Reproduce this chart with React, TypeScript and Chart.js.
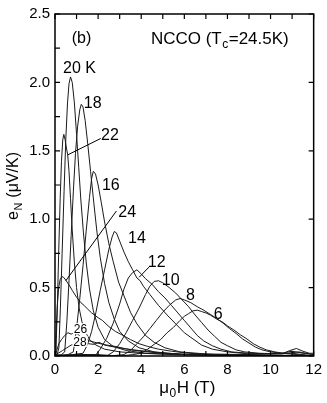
import React, { useEffect, useRef } from "react";
import { Chart, registerables } from "chart.js";

Chart.register(...registerables);

const FAM = '"Liberation Sans", Arial, Helvetica, sans-serif';

// Axis ranges and ticks
const X_MIN = 0;
const X_MAX = 12;
const Y_MIN = 0;
const Y_MAX = 2.5;
const X_TICK_STEP = 1;
const Y_TICK_STEP = 0.25;

// Nernst signal curves: [mu0H (T), eN (uV/K)]
const T6: [number, number][] = [[0,0.01],[1,0.0],[2,0.01],[3,0.0],[3.6,0.01],[4.0,0.02],[4.3,0.05],[4.6,0.085],[4.9,0.12],[5.2,0.17],[5.5,0.21],[5.8,0.26],[6.0,0.29],[6.2,0.31],[6.4,0.33],[6.6,0.335],[6.8,0.325],[7.0,0.315],[7.2,0.3],[7.5,0.27],[7.8,0.245],[8.0,0.22],[8.3,0.19],[8.6,0.155],[8.9,0.125],[9.2,0.09],[9.5,0.065],[9.8,0.045],[10.2,0.03],[10.6,0.02],[10.9,0.04],[11.2,0.055],[11.5,0.035],[11.8,0.02],[12,0.02]];
const T8: [number, number][] = [[0,0],[1.5,0.01],[2.5,0.0],[3.2,0.01],[3.5,0.04],[3.8,0.09],[4.1,0.14],[4.4,0.2],[4.7,0.26],[5.0,0.32],[5.3,0.37],[5.6,0.41],[5.8,0.42],[6.0,0.41],[6.3,0.39],[6.6,0.36],[6.9,0.335],[7.2,0.305],[7.5,0.275],[7.8,0.24],[8.1,0.2],[8.4,0.165],[8.7,0.125],[9.0,0.095],[9.3,0.065],[9.6,0.045],[10.0,0.03],[10.5,0.02],[11.0,0.035],[11.5,0.02],[12,0.01]];
const T10: [number, number][] = [[0,0],[1.5,0.01],[2.4,0.0],[2.7,0.03],[3.0,0.09],[3.3,0.17],[3.6,0.26],[3.9,0.35],[4.2,0.45],[4.4,0.51],[4.6,0.545],[4.8,0.55],[5.0,0.535],[5.3,0.5],[5.6,0.46],[5.9,0.41],[6.2,0.36],[6.5,0.3],[6.8,0.245],[7.1,0.19],[7.4,0.145],[7.7,0.1],[8.0,0.075],[8.4,0.045],[8.8,0.03],[9.5,0.02],[10.5,0.015],[11.3,0.03],[12,0.01]];
const T12: [number, number][] = [[0,0],[1.0,0.01],[1.9,0.01],[2.1,0.05],[2.4,0.13],[2.7,0.24],[3.0,0.38],[3.2,0.49],[3.4,0.57],[3.6,0.61],[3.8,0.63],[4.0,0.6],[4.2,0.565],[4.5,0.525],[4.8,0.47],[5.1,0.425],[5.4,0.37],[5.7,0.315],[6.0,0.26],[6.3,0.205],[6.6,0.15],[6.9,0.11],[7.3,0.075],[7.7,0.05],[8.2,0.03],[9.0,0.02],[10.0,0.015],[11.0,0.02],[12,0]];
const T14: [number, number][] = [[0,0],[0.8,0.01],[1.3,0.02],[1.5,0.08],[1.7,0.18],[1.9,0.32],[2.1,0.48],[2.3,0.63],[2.5,0.78],[2.65,0.87],[2.75,0.91],[2.85,0.9],[3.0,0.84],[3.2,0.76],[3.4,0.69],[3.6,0.63],[3.8,0.57],[3.95,0.55],[4.1,0.51],[4.4,0.45],[4.8,0.37],[5.2,0.3],[5.6,0.235],[6.0,0.17],[6.4,0.125],[6.8,0.08],[7.3,0.05],[8.0,0.03],[9.0,0.015],[10.5,0.02],[12,0]];
const T16: [number, number][] = [[0,0],[0.6,0.01],[0.85,0.03],[1.0,0.2],[1.15,0.42],[1.3,0.66],[1.45,0.92],[1.6,1.16],[1.7,1.3],[1.78,1.35],[1.88,1.33],[2.0,1.25],[2.15,1.12],[2.3,0.98],[2.5,0.82],[2.7,0.69],[2.95,0.54],[3.2,0.44],[3.5,0.32],[3.8,0.235],[4.2,0.15],[4.6,0.1],[5.1,0.06],[5.8,0.03],[7.0,0.015],[9.0,0.01],[12,0]];
const T18: [number, number][] = [[0,0],[0.3,0.01],[0.45,0.03],[0.55,0.25],[0.65,0.55],[0.75,0.88],[0.85,1.2],[0.95,1.48],[1.05,1.68],[1.15,1.8],[1.22,1.84],[1.3,1.82],[1.4,1.72],[1.52,1.55],[1.65,1.35],[1.8,1.12],[1.95,0.9],[2.1,0.72],[2.3,0.53],[2.5,0.39],[2.75,0.27],[3.0,0.18],[3.4,0.11],[3.9,0.06],[4.6,0.03],[6.0,0.01],[12,0]];
const T20: [number, number][] = [[0,0],[0.1,0.01],[0.18,0.06],[0.25,0.35],[0.33,0.75],[0.42,1.2],[0.5,1.58],[0.58,1.85],[0.65,1.99],[0.72,2.04],[0.8,2.0],[0.9,1.85],[1.0,1.62],[1.1,1.38],[1.2,1.14],[1.32,0.9],[1.45,0.68],[1.6,0.49],[1.78,0.33],[2.0,0.21],[2.3,0.12],[2.7,0.07],[3.3,0.04],[4.2,0.02],[6.0,0.01],[12,0]];
const T22: [number, number][] = [[0,0],[0.04,0.03],[0.1,0.3],[0.17,0.75],[0.24,1.15],[0.3,1.42],[0.36,1.58],[0.41,1.62],[0.47,1.58],[0.53,1.52],[0.59,1.47],[0.65,1.35],[0.72,1.15],[0.8,0.92],[0.9,0.68],[1.0,0.5],[1.12,0.35],[1.25,0.25],[1.4,0.18],[1.6,0.12],[1.9,0.08],[2.3,0.05],[3.0,0.03],[4.0,0.02],[5.5,0.01],[12,0]];
const T24: [number, number][] = [[0,0],[0.04,0.12],[0.1,0.35],[0.17,0.5],[0.24,0.56],[0.32,0.58],[0.4,0.575],[0.5,0.555],[0.65,0.52],[0.8,0.48],[1.0,0.43],[1.2,0.39],[1.35,0.37],[1.5,0.345],[1.7,0.315],[2.0,0.28],[2.2,0.26],[2.5,0.215],[2.8,0.18],[3.1,0.155],[3.5,0.12],[3.9,0.09],[4.3,0.07],[4.8,0.05],[5.4,0.035],[6.2,0.02],[7.5,0.01],[12,0]];
const T26: [number, number][] = [[0,0],[0.08,0.04],[0.18,0.09],[0.3,0.12],[0.45,0.15],[0.6,0.17],[0.75,0.16],[0.9,0.17],[1.05,0.16],[1.2,0.14],[1.4,0.13],[1.6,0.11],[1.85,0.1],[2.1,0.09],[2.4,0.08],[2.8,0.07],[3.2,0.055],[3.7,0.04],[4.3,0.03],[5.0,0.02],[6.0,0.01],[8.0,0.01],[12,0]];
const T28: [number, number][] = [[0,0],[0.15,0.02],[0.35,0.04],[0.55,0.06],[0.75,0.08],[0.95,0.09],[1.15,0.11],[1.35,0.1],[1.55,0.09],[1.8,0.085],[2.05,0.1],[2.3,0.08],[2.6,0.07],[3.0,0.06],[3.4,0.05],[3.9,0.04],[4.5,0.03],[5.2,0.02],[6.5,0.01],[12,0]];

const CURVES = [T6, T8, T10, T12, T14, T16, T18, T20, T22, T24, T26, T28];

// Curve labels (data coords of label centre)
const LABEL_TEXT = ["20 K", "18", "22", "16", "24", "14", "12", "10", "8", "6"];
const LABEL_X = [1.14, 1.75, 2.55, 2.59, 3.35, 3.8, 4.72, 5.37, 6.28, 7.57];
const LABEL_Y = [2.11, 1.855, 1.616, 1.254, 1.058, 0.865, 0.688, 0.558, 0.449, 0.308];
const SMALL_LABEL_TEXT = ["26", "28"];
const SMALL_LABEL_X = [1.18, 1.16];
const SMALL_LABEL_Y = [0.196, 0.104];
// Leader lines: [x1, y1, x2, y2]
const LEADERS: [number, number, number, number][] = [
  [2.12, 1.59, 0.59, 1.47],
  [2.85, 1.06, 0.5, 0.55],
  [4.36, 0.65, 3.9, 0.575],
];

type Part = [string, boolean];

function drawParts(ctx: CanvasRenderingContext2D, parts: Part[], x: number, y: number, align: "left" | "center", size: number) {
  const subSize = Math.round(size * 0.68);
  let total = 0;
  const widths = parts.map(([t, sub]) => {
    ctx.font = `${sub ? subSize : size}px ${FAM}`;
    const w = ctx.measureText(t).width + (sub ? 1 : 0);
    total += w;
    return w;
  });
  let cx = align === "center" ? x - total / 2 : x;
  ctx.textAlign = "left";
  ctx.textBaseline = "alphabetic";
  parts.forEach(([t, sub], i) => {
    ctx.font = `${sub ? subSize : size}px ${FAM}`;
    ctx.fillText(t, cx + (sub ? 0.5 : 0), sub ? y + size * 0.22 : y);
    cx += widths[i];
  });
}

const decorPlugin = {
  id: "decor",
  afterDatasetsDraw(chart: any) {
    const ctx: CanvasRenderingContext2D = chart.ctx;
    const xs = chart.scales.x;
    const ys = chart.scales.y;
    const { left, right, top, bottom } = chart.chartArea;
    ctx.save();
    ctx.strokeStyle = "#000";
    ctx.fillStyle = "#000";
    // frame
    ctx.lineWidth = 1.5;
    ctx.strokeRect(left, top, right - left, bottom - top);
    // ticks inward
    ctx.lineWidth = 1.2;
    ctx.beginPath();
    for (let v = X_MIN; v <= X_MAX + 1e-9; v += X_TICK_STEP) {
      const px = xs.getPixelForValue(v);
      ctx.moveTo(px, bottom);
      ctx.lineTo(px, bottom - 5);
      ctx.moveTo(px, top);
      ctx.lineTo(px, top + 5);
    }
    for (let v = Y_MIN; v <= Y_MAX + 1e-9; v += Y_TICK_STEP) {
      const py = ys.getPixelForValue(v);
      ctx.moveTo(left, py);
      ctx.lineTo(left + 5, py);
      if (Math.abs(v * 2 - Math.round(v * 2)) < 1e-6) {
        ctx.moveTo(right, py);
        ctx.lineTo(right - 5, py);
      }
    }
    ctx.stroke();

    // leader lines
    ctx.lineWidth = 1;
    ctx.beginPath();
    LEADERS.forEach(([x1, y1, x2, y2]) => {
      ctx.moveTo(xs.getPixelForValue(x1), ys.getPixelForValue(y1));
      ctx.lineTo(xs.getPixelForValue(x2), ys.getPixelForValue(y2));
    });
    ctx.stroke();

    // curve labels
    ctx.textAlign = "center";
    ctx.textBaseline = "middle";
    ctx.font = `16px ${FAM}`;
    LABEL_TEXT.forEach((t, i) => {
      ctx.fillText(t, xs.getPixelForValue(LABEL_X[i]), ys.getPixelForValue(LABEL_Y[i]) + 1);
    });
    ctx.font = `12px ${FAM}`;
    SMALL_LABEL_TEXT.forEach((t, i) => {
      const px = xs.getPixelForValue(SMALL_LABEL_X[i]);
      const py = ys.getPixelForValue(SMALL_LABEL_Y[i]);
      const w = ctx.measureText(t).width;
      ctx.fillStyle = "#fff";
      ctx.fillRect(px - w / 2 - 1, py - 6, w + 2, 11);
      ctx.fillStyle = "#000";
      ctx.fillText(t, px, py + 1);
    });

    // panel texts
    ctx.textAlign = "center";
    ctx.font = `16px ${FAM}`;
    ctx.fillText("(b)", xs.getPixelForValue(1.23), ys.getPixelForValue(2.326) + 1);
    drawParts(ctx, [["NCCO (T", false], ["c", true], ["=24.5K)", false]], xs.getPixelForValue(4.45), ys.getPixelForValue(2.326) + 6, "left", 17);

    // axis titles
    drawParts(ctx, [["\u03bc", false], ["0", true], ["H (T)", false]], (left + right) / 2 + 3, 393, "center", 17);
    ctx.save();
    ctx.translate(18, (top + bottom) / 2 + 1);
    ctx.rotate(-Math.PI / 2);
    drawParts(ctx, [["e", false], ["N", true], [" (\u03bcV/K)", false]], 0, 0, "center", 16);
    ctx.restore();

    ctx.restore();
  },
};

export default function App() {
  const ref = useRef<HTMLCanvasElement>(null);
  useEffect(() => {
    if (!ref.current) return;
    const chart = new Chart(ref.current, {
      type: "line",
      data: {
        datasets: CURVES.map((c) => ({
          data: c.map(([x, y]) => ({ x, y })),
          borderColor: "#1a1a1a",
          borderWidth: 1,
          pointRadius: 0,
          fill: false,
          tension: 0,
        })),
      },
      options: {
        animation: false,
        responsive: true,
        maintainAspectRatio: false,
        layout: { padding: { left: 0, right: 9, top: 10, bottom: 0 } },
        plugins: { legend: { display: false }, tooltip: { enabled: false } },
        scales: {
          x: {
            type: "linear",
            min: X_MIN,
            max: X_MAX,
            afterFit: (s: any) => {
              s.height = 47;
            },
            grid: { display: false, drawTicks: false },
            border: { display: false },
            ticks: {
              stepSize: X_TICK_STEP,
              autoSkip: false,
              maxRotation: 0,
              padding: 5,
              color: "#000",
              font: { family: FAM, size: 15 },
              callback: (v: any) => (Math.round(v) % 2 === 0 ? String(v) : ""),
            },
          },
          y: {
            type: "linear",
            min: Y_MIN,
            max: Y_MAX,
            afterFit: (s: any) => {
              s.width = 55;
            },
            grid: { display: false, drawTicks: false },
            border: { display: false },
            ticks: {
              stepSize: Y_TICK_STEP,
              autoSkip: false,
              padding: 5,
              color: "#000",
              font: { family: FAM, size: 15 },
              callback: (v: any) => (Math.abs(v * 2 - Math.round(v * 2)) < 1e-6 ? Number(v).toFixed(1) : ""),
            },
          },
        },
      },
      plugins: [decorPlugin],
    });
    return () => chart.destroy();
  }, []);
  return (
    <div style={{ position: "fixed", left: 0, top: 0, width: 327, height: 403, background: "#fff" }}>
      <canvas ref={ref} />
    </div>
  );
}
